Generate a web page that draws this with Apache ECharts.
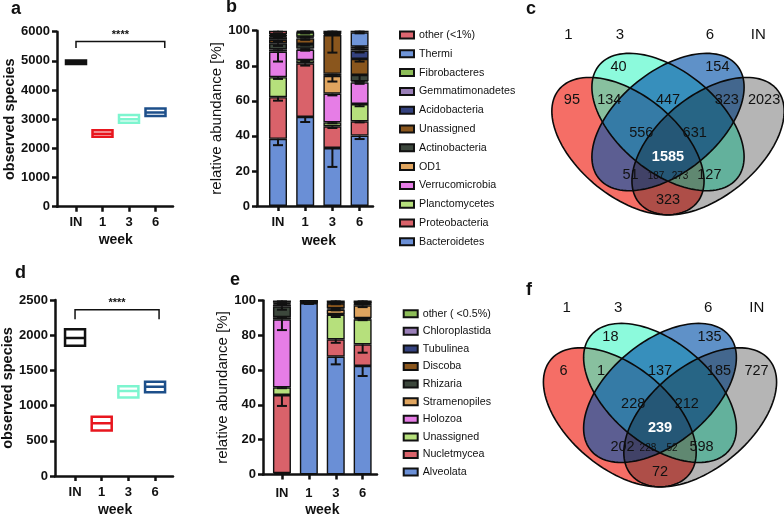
<!DOCTYPE html>
<html><head><meta charset="utf-8">
<script src="https://cdn.jsdelivr.net/npm/echarts@6/dist/echarts.min.js"></script>
<style>html,body{margin:0;padding:0;background:#fff}#c{width:784px;height:515px}</style>
</head><body><div id="c"></div>
<script>
// ================= DATA =================
const weeks = ['IN', '1', '3', '6'];

// a: observed species (16S) – box low / mean / high
const aLow  = [4890, 2400, 2880, 3110];
const aMid  = [4950, 2500, 3000, 3230];
const aHigh = [5010, 2620, 3140, 3370];
// d: observed species (18S)
const dLow  = [1850, 645, 1115, 1190];
const dMid  = [1960, 748, 1207, 1268];
const dHigh = [2085, 840, 1275, 1338];
const sigText = '****';
const aSig = [0, 3.35, 5660, 5440];   // from cat, to cat, bracket value, end value
const dSig = [0, 3.15, 2360, 2225];

// b: bacterial phyla, relative abundance [%] (IN, 1, 3, 6), stacking order bottom -> top
const bTaxa = ['Bacteroidetes', 'Proteobacteria', 'Planctomycetes', 'Verrucomicrobia', 'OD1',
  'Actinobacteria', 'Unassigned', 'Acidobacteria', 'Gemmatimonadetes', 'Fibrobacteres', 'Thermi', 'other (<1%)'];
const bBacteroidetes    = [38.3, 50.8, 33.1, 40.2];
const bProteobacteria   = [23.8, 30.6, 12.4, 8.1];
const bPlanctomycetes   = [11.4, 1.8, 2.2, 9.9];
const bVerrucomicrobia  = [14.6, 6.0, 16.4, 12.3];
const bOD1              = [1.2, 0.6, 10.1, 0.6];
const bActinobacteria   = [3.5, 2.6, 1.2, 3.7];
const bUnassigned       = [2.0, 3.2, 22.1, 9.1];
const bAcidobacteria    = [1.5, 0.6, 0.6, 4.7];
const bGemmatimonadetes = [0.5, 0.4, 0.3, 1.4];
const bFibrobacteres    = [0.8, 2.4, 0.3, 0.9];
const bThermi           = [0.5, 0.3, 0.3, 8.2];
const bOther            = [1.9, 0.7, 1.0, 0.9];
const bValues = [bBacteroidetes, bProteobacteria, bPlanctomycetes, bVerrucomicrobia, bOD1,
  bActinobacteria, bUnassigned, bAcidobacteria, bGemmatimonadetes, bFibrobacteres, bThermi, bOther];
const bErr = [
  [3.6, 2.9, 10.8, 2.0], [2.0, 1.3, 1.0, 0.6], [1.0, 0.5, 0.5, 1.3], [5.7, 0.6, 1.0, 0.8],
  [0.5, 0.3, 3.2, 0.3], [1.5, 0.8, 0.5, 3.5], [1.0, 0.8, 10.0, 1.5], [0.5, 0.2, 0.3, 1.0],
  [0.2, 0.2, 0.2, 0.5], [0.5, 0.6, 0.2, 0.3], [0.3, 0.2, 0.2, 0.6], [0.6, 0.4, 0.5, 0.5]];

// e: eukaryotic groups, relative abundance [%]
const eTaxa = ['Alveolata', 'Nucletmycea', 'Unassigned ', 'Holozoa', 'Stramenopiles',
  'Rhizaria', 'Discoba', 'Tubulinea', 'Chloroplastida', 'other ( <0.5%)'];
const eAlveolata      = [0.8, 98.5, 67.7, 62.4];
const eNucletmycea    = [44.9, 0.3, 10.0, 12.4];
const eUnassigned     = [4.4, 0.2, 14.2, 14.4];
const eHolozoa        = [39.1, 0.1, 0.3, 0.6];
const eStramenopiles  = [1.2, 0.1, 2.6, 7.4];
const eRhizaria       = [6.3, 0.3, 0.6, 1.0];
const eDiscoba        = [1.0, 0.1, 3.0, 0.4];
const eTubulinea      = [0.5, 0.1, 0.3, 0.2];
const eChloroplastida = [0.5, 0.1, 0.2, 0.2];
const eOther          = [1.3, 0.2, 1.1, 1.0];
const eValues = [eAlveolata, eNucletmycea, eUnassigned, eHolozoa, eStramenopiles,
  eRhizaria, eDiscoba, eTubulinea, eChloroplastida, eOther];
const eErr = [
  [0.3, 0.5, 4.4, 5.8], [6.3, 0.1, 2.0, 4.8], [0.5, 0.1, 1.4, 0.5], [6.2, 0.1, 0.2, 0.2],
  [0.5, 0.1, 0.5, 1.0], [2.0, 0.1, 0.3, 0.4], [0.3, 0.1, 0.5, 0.2], [0.2, 0.1, 0.1, 0.1],
  [0.2, 0.1, 0.1, 0.1], [0.5, 0.4, 0.5, 0.5]];

// c / f: Venn region counts
const vennSets = ['1', '3', '6', 'IN'];
const cCounts = [95, 40, 154, 2023, 134, 447, 323, 556, 631, 1585, 51, 187, 273, 127, 323];
const fCounts = [6, 18, 135, 727, 1, 137, 185, 228, 212, 239, 202, 228, 52, 598, 72];

// ================= LAYOUT / STYLE =================
const FONT = '"Liberation Sans", Arial, Helvetica, sans-serif';
const INK = '#111';
const boxColors = ['#111111', '#e8161e', '#7df5cf', '#1d4f8a'];
const bColors = ['#6a8fd6', '#d9626a', '#b6e07c', '#e67de6', '#e0a55f', '#3c473c',
  '#8a561d', '#34427f', '#9a7fb8', '#8dbd58', '#6f95d8', '#dd6670'];
const eColors = ['#6a8fd6', '#d9626a', '#b6e07c', '#e67de6', '#e0a55f', '#3c473c',
  '#8a561d', '#34427f', '#9a7fb8', '#8dbd58'];
// Venn geometry in unit space: cx, cy, semi-major, semi-minor, rotation(deg)
const vennEllipses = [[0.35, 0.47, 0.35, 0.2, -45], [0.5, 0.57, 0.35, 0.2, -45],
  [0.5, 0.57, 0.35, 0.2, 45], [0.65, 0.47, 0.35, 0.2, 45]];
const vennFill = ['rgba(238,13,0,0.6)', 'rgba(63,247,197,0.6)', 'rgba(9,86,170,0.65)', 'rgba(0,0,0,0.29)'];
const vennDrawOrder = [0, 1, 2, 3];
const vennRegionPos = [[0.14, 0.66], [0.315, 0.80], [0.685, 0.80], [0.86, 0.66], [0.28, 0.66],
  [0.50, 0.66], [0.72, 0.66], [0.40, 0.526], [0.60, 0.526], [0.50, 0.425], [0.36, 0.35],
  [0.455, 0.345], [0.545, 0.345], [0.655, 0.35], [0.50, 0.245]];
const cSetPos = [[0.127, 0.93], [0.32, 0.93], [0.657, 0.93], [0.838, 0.93]];
const fSetPos = [[0.152, 0.917], [0.344, 0.917], [0.68, 0.917], [0.861, 0.917]];

// ================= HELPERS =================
function catX(gi, nameGap, margin) {
  return { gridIndex: gi, type: 'category', data: weeks, boundaryGap: true,
    axisLine: { show: false },
    axisTick: { show: true, alignWithLabel: true, length: 5, lineStyle: { color: INK, width: 2.5 } },
    axisLabel: { fontFamily: FONT, fontSize: 13, fontWeight: 'bold', color: INK, margin: margin },
    name: 'week', nameLocation: 'middle', nameGap: nameGap,
    nameTextStyle: { fontFamily: FONT, fontSize: 14, fontWeight: 'bold', color: INK } };
}
function lineX(gi) {
  return { gridIndex: gi, type: 'value', min: 0, max: 1,
    axisLine: { show: true, onZero: false, lineStyle: { color: INK, width: 2.5 } },
    axisTick: { show: false }, axisLabel: { show: false }, splitLine: { show: false } };
}
function valY(gi, max, interval, name, nameGap, offset, bold) {
  return { gridIndex: gi, type: 'value', min: 0, max: max, interval: interval, offset: offset,
    name: name, nameLocation: 'middle', nameGap: nameGap, nameRotate: 90,
    nameTextStyle: { fontFamily: FONT, fontSize: bold ? 14.5 : 15, fontWeight: bold ? 'bold' : 'normal', color: INK },
    axisLine: { show: true, lineStyle: { color: INK, width: 2.5 } },
    axisTick: { show: true, length: 5, lineStyle: { color: INK, width: 2.5 } },
    axisLabel: { fontFamily: FONT, fontSize: 13, fontWeight: 'bold', color: INK, margin: 7,
      formatter: v => String(v) },
    splitLine: { show: false } };
}
function hiddenAxis(gi, type) {
  return { gridIndex: gi, type: type || 'value', min: 0, max: 1, show: false };
}
function boxSeries(axisIdx, lo, mid, hi) {
  return { type: 'boxplot', xAxisIndex: axisIdx, yAxisIndex: axisIdx, boxWidth: [20, 20],
    itemStyle: { color: '#fff', borderWidth: 2.5 }, silent: true,
    data: weeks.map((w, i) => ({ value: [lo[i], lo[i], mid[i], hi[i], hi[i]],
      itemStyle: { borderColor: boxColors[i], color: '#fff' } })) };
}
function sigSeries(axisIdx, sig) {
  return { type: 'custom', xAxisIndex: axisIdx, yAxisIndex: axisIdx, silent: true, z: 5,
    data: [sig],
    renderItem: function (params, api) {
      const band = api.size([1, 0])[0];
      const px = v => { const f = Math.floor(v); return api.coord([f, 0])[0] + (v - f) * band; };
      const x0 = px(api.value(0)), x1 = px(api.value(1));
      const yb = api.coord([0, api.value(2)])[1], ye = api.coord([0, api.value(3)])[1];
      return { type: 'group', children: [
        { type: 'polyline', shape: { points: [[x0, ye], [x0, yb], [x1, yb], [x1, ye]] },
          style: { stroke: INK, lineWidth: 1.5, fill: 'none' } },
        { type: 'text', x: (x0 + x1) / 2, y: yb - 1,
          style: { text: sigText, fill: INK, font: 'bold 11px ' + FONT, align: 'center', verticalAlign: 'bottom' } }
      ] };
    } };
}
function stackSeries(axisIdx, taxa, values, colors, stackName) {
  return taxa.map((t, k) => ({ type: 'bar', name: t, stack: stackName, xAxisIndex: axisIdx, yAxisIndex: axisIdx,
    barWidth: 18, data: values[k], itemStyle: { color: colors[k], borderColor: INK, borderWidth: 1.4 },
    emphasis: { disabled: true } }));
}
function errSeries(axisIdx, values, errs) {
  const data = [];
  weeks.forEach((w, i) => {
    let cum = 0;
    values.forEach((arr, k) => { cum += arr[i]; data.push([i, cum, cum - errs[k][i]]); });
  });
  return { type: 'custom', xAxisIndex: axisIdx, yAxisIndex: axisIdx, silent: true, z: 6, data: data,
    renderItem: function (params, api) {
      const p1 = api.coord([api.value(0), api.value(1)]);
      const p2 = api.coord([api.value(0), api.value(2)]);
      const w = 5;
      return { type: 'group', children: [
        { type: 'line', shape: { x1: p1[0], y1: p1[1], x2: p2[0], y2: p2[1] }, style: { stroke: INK, lineWidth: 2 } },
        { type: 'line', shape: { x1: p2[0] - w, y1: p2[1], x2: p2[0] + w, y2: p2[1] }, style: { stroke: INK, lineWidth: 2 } }
      ] };
    } };
}
function ellipsePts(e, api) {
  const pts = [], r = e[4] * Math.PI / 180;
  for (let i = 0; i < 120; i++) {
    const t = i / 120 * 2 * Math.PI, x = e[2] * Math.cos(t), y = e[3] * Math.sin(t);
    pts.push(api.coord([e[0] + x * Math.cos(r) - y * Math.sin(r), e[1] + x * Math.sin(r) + y * Math.cos(r)]));
  }
  return pts;
}
function vennSeries(axisIdx, counts, setPos) {
  const ordered = vennDrawOrder.map(i => vennEllipses[i].concat([i]));
  const fills = { type: 'custom', xAxisIndex: axisIdx, yAxisIndex: axisIdx, silent: true, clip: false, z: 2,
    data: ordered,
    renderItem: function (params, api) {
      const e = [0, 1, 2, 3, 4].map(k => api.value(k));
      return { type: 'polygon', z2: params.dataIndex, shape: { points: ellipsePts(e, api) },
        style: { fill: vennFill[api.value(5)], stroke: 'none' } };
    } };
  const outlines = { type: 'custom', xAxisIndex: axisIdx, yAxisIndex: axisIdx, silent: true, clip: false, z: 3,
    data: ordered,
    renderItem: function (params, api) {
      const e = [0, 1, 2, 3, 4].map(k => api.value(k));
      return { type: 'polygon', shape: { points: ellipsePts(e, api) },
        style: { fill: 'none', stroke: '#0a0a0a', lineWidth: 1.6 } };
    } };
  const labels = { type: 'custom', xAxisIndex: axisIdx, yAxisIndex: axisIdx, silent: true, clip: false, z: 4,
    data: vennRegionPos.map((p, i) => [p[0], p[1], counts[i], i]),
    renderItem: function (params, api) {
      const p = api.coord([api.value(0), api.value(1)]);
      const idx = api.value(3);
      const isAll = idx === 9, small = idx === 11 || idx === 12;
      return { type: 'text', x: p[0], y: p[1],
        style: { text: String(api.value(2)), fill: isAll ? '#fff' : INK,
          font: (isAll ? 'bold ' : '') + (small ? 10 : 14.5) + 'px ' + FONT, align: 'center', verticalAlign: 'middle' } };
    } };
  const sets = { type: 'custom', xAxisIndex: axisIdx, yAxisIndex: axisIdx, silent: true, clip: false, z: 4,
    data: setPos.map((p, i) => [p[0], p[1], i]),
    renderItem: function (params, api) {
      const p = api.coord([api.value(0), api.value(1)]);
      return { type: 'text', x: p[0], y: p[1],
        style: { text: vennSets[api.value(2)], fill: INK, font: '15px ' + FONT, align: 'center', verticalAlign: 'middle' } };
    } };
  return [fills, outlines, labels, sets];
}

// ================= OPTION =================
const panelLetters = ['a', 'b', 'c', 'd', 'e', 'f'];
const letterPos = [[11, 0], [226, -2], [526, 0], [15, 264], [230, 271], [526, 281]];

const grids = [
  { left: 62.75, top: 31.7, width: 106, height: 175 },   // 0 a inner
  { left: 57, top: 31.7, width: 116, height: 175 },      // 1 a line
  { left: 61.7, top: 300, width: 106.7, height: 176 },   // 2 d inner
  { left: 55, top: 300, width: 118, height: 176 },       // 3 d line
  { left: 264.4, top: 30.7, width: 108.8, height: 175.3 }, // 4 b inner
  { left: 257, top: 30.7, width: 116, height: 175.3 },   // 5 b line
  { left: 268.5, top: 300.5, width: 107.6, height: 174 }, // 6 e inner
  { left: 263, top: 300.5, width: 114, height: 174 },    // 7 e line
  { left: 534.5, top: 18.4, width: 267, height: 241 },   // 8 venn c
  { left: 526, top: 288, width: 268, height: 244 }       // 9 venn f
].map(g => Object.assign({ outerBoundsMode: 'none', containLabel: false }, g));

const option = {
  animation: false,
  backgroundColor: '#fff',
  title: panelLetters.map((t, i) => ({ text: t, left: letterPos[i][0], top: letterPos[i][1], padding: 0,
    textStyle: { fontFamily: FONT, fontSize: 18, fontWeight: 'bold', color: INK } })),
  grid: grids,
  xAxis: [catX(0, 26, 9.5), lineX(1), catX(2, 27, 10), lineX(3), catX(4, 28, 10), lineX(5), catX(6, 29, 12), lineX(7),
    hiddenAxis(8), hiddenAxis(9)],
  yAxis: [valY(0, 6000, 1000, 'observed species', 36, 5.75, true), hiddenAxis(1),
    valY(2, 2500, 500, 'observed species', 36, 6.7, true), hiddenAxis(3),
    valY(4, 100, 20, 'relative abundance [%]', 32, 7.4, false), hiddenAxis(5),
    valY(6, 100, 20, 'relative abundance [%]', 33, 5.5, false), hiddenAxis(7),
    hiddenAxis(8), hiddenAxis(9)],
  legend: [
    { data: bTaxa.slice().reverse(), orient: 'vertical', left: 394, top: 24, itemWidth: 14, itemHeight: 7,
      itemGap: 6.8, icon: 'rect', selectedMode: false,
      textStyle: { fontFamily: FONT, fontSize: 10.7, color: INK, lineHeight: 12 } },
    { data: eTaxa.slice().reverse(), orient: 'vertical', left: 397.7, top: 302.7, itemWidth: 14, itemHeight: 7,
      itemGap: 5.6, icon: 'rect', selectedMode: false,
      textStyle: { fontFamily: FONT, fontSize: 10.7, color: INK, lineHeight: 12 } }
  ],
  series: [].concat(
    [boxSeries(0, aLow, aMid, aHigh), sigSeries(0, aSig)],
    [boxSeries(2, dLow, dMid, dHigh), sigSeries(2, dSig)],
    stackSeries(4, bTaxa, bValues, bColors, 'b'), [errSeries(4, bValues, bErr)],
    stackSeries(6, eTaxa, eValues, eColors, 'e'), [errSeries(6, eValues, eErr)],
    vennSeries(8, cCounts, cSetPos), vennSeries(9, fCounts, fSetPos)
  )
};

const chart = echarts.init(document.getElementById('c'));
chart.setOption(option);
</script>
</body></html>
